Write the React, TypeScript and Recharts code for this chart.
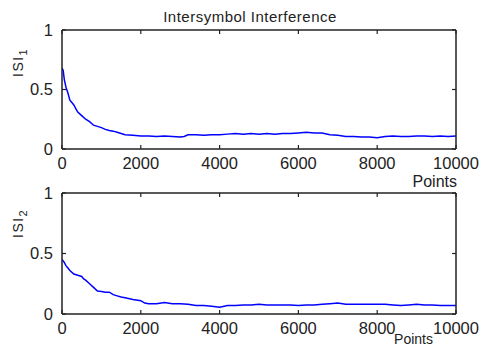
import React from 'react';
import { LineChart, Line, XAxis, YAxis } from 'recharts';

const isi1X = [0, 30, 60, 100, 150, 200, 250, 300, 350, 400, 500, 600, 700, 800, 900, 1000, 1100, 1200, 1300, 1400, 1500, 1600, 1800, 2000, 2200, 2400, 2600, 2800, 3000, 3100, 3200, 3400, 3600, 3800, 4000, 4200, 4400, 4600, 4800, 5000, 5200, 5400, 5600, 5800, 6000, 6200, 6400, 6600, 6800, 7000, 7200, 7400, 7600, 7800, 8000, 8200, 8400, 8600, 8800, 9000, 9200, 9400, 9600, 9800, 10000];
const isi1Y = [0.68, 0.66, 0.58, 0.52, 0.47, 0.41, 0.39, 0.37, 0.34, 0.31, 0.28, 0.25, 0.23, 0.2, 0.19, 0.18, 0.165, 0.155, 0.15, 0.14, 0.13, 0.12, 0.115, 0.11, 0.11, 0.105, 0.11, 0.105, 0.1, 0.105, 0.12, 0.12, 0.115, 0.12, 0.12, 0.125, 0.13, 0.125, 0.13, 0.125, 0.13, 0.125, 0.13, 0.13, 0.135, 0.14, 0.135, 0.135, 0.12, 0.115, 0.105, 0.105, 0.1, 0.1, 0.095, 0.105, 0.11, 0.105, 0.105, 0.11, 0.11, 0.105, 0.11, 0.105, 0.11];

const isi2X = [0, 50, 100, 150, 200, 300, 400, 500, 550, 600, 700, 800, 900, 1000, 1100, 1200, 1300, 1400, 1500, 1600, 1800, 2000, 2100, 2200, 2400, 2600, 2800, 3000, 3200, 3400, 3600, 3800, 4000, 4200, 4400, 4600, 4800, 5000, 5200, 5400, 5600, 5800, 6000, 6200, 6400, 6600, 6800, 7000, 7200, 7400, 7600, 7800, 8000, 8200, 8400, 8600, 8800, 9000, 9200, 9400, 9600, 9800, 10000];
const isi2Y = [0.45, 0.43, 0.4, 0.38, 0.36, 0.33, 0.32, 0.31, 0.29, 0.28, 0.25, 0.22, 0.19, 0.185, 0.18, 0.18, 0.16, 0.15, 0.14, 0.135, 0.12, 0.11, 0.09, 0.085, 0.085, 0.095, 0.085, 0.085, 0.08, 0.07, 0.07, 0.065, 0.055, 0.07, 0.07, 0.075, 0.075, 0.08, 0.075, 0.075, 0.075, 0.075, 0.07, 0.075, 0.075, 0.08, 0.085, 0.09, 0.08, 0.08, 0.08, 0.08, 0.08, 0.08, 0.075, 0.07, 0.075, 0.08, 0.075, 0.075, 0.07, 0.07, 0.07];

const xTicks = [0, 2000, 4000, 6000, 8000, 10000];
const yTicks = [0, 0.5, 1];
const titleText = 'Intersymbol Interference';
const xLabel = 'Points';

const FONT = '"Liberation Sans", Arial, sans-serif';
const AX = '#222';

const XTickBottom = (props: any) => {
  const { x, y, payload } = props;
  return (
    <g>
      <line x1={x} x2={x} y1={y} y2={y - 4} stroke={AX} strokeWidth={1.2} />
      <text x={x} y={y + 20} textAnchor="middle" fontSize={16.5} fontFamily={FONT} fill={AX}>
        {payload.value}
      </text>
    </g>
  );
};
const XTickTop = (props: any) => {
  const { x, y } = props;
  return <line x1={x} x2={x} y1={y} y2={y + 4} stroke={AX} strokeWidth={1.2} />;
};
const YTickLeft = (props: any) => {
  const { x, y, payload } = props;
  return (
    <g>
      <line x1={x} x2={x + 4} y1={y} y2={y} stroke={AX} strokeWidth={1.2} />
      <text x={x - 9} y={y} dy="0.36em" textAnchor="end" fontSize={16.5} fontFamily={FONT} fill={AX}>
        {payload.value}
      </text>
    </g>
  );
};
const YTickRight = (props: any) => {
  const { x, y } = props;
  return <line x1={x} x2={x - 4} y1={y} y2={y} stroke={AX} strokeWidth={1.2} />;
};

function Panel({ xs, ys, top, height }: { xs: number[]; ys: number[]; top: number; height: number }) {
  const data = xs.map((x, i) => ({ x, y: ys[i] }));
  return (
    <div style={{ position: 'absolute', left: 0, top, width: 483, height }}>
      <LineChart width={483} height={height} data={data} margin={{ top: 29, right: 26, bottom: 25, left: 61 }}>
        <XAxis
          dataKey="x"
          type="number"
          domain={[0, 10000]}
          ticks={xTicks}
          height={1}
          tickSize={0}
          tickMargin={0}
          tickLine={false}
          tick={<XTickBottom />}
          axisLine={{ stroke: AX, strokeWidth: 1.5 }}
          allowDataOverflow
          interval={0}
        />
        <XAxis
          xAxisId="t"
          orientation="top"
          dataKey="x"
          type="number"
          domain={[0, 10000]}
          ticks={xTicks}
          height={1}
          tickSize={0}
          tickMargin={0}
          tickLine={false}
          tick={<XTickTop />}
          axisLine={{ stroke: AX, strokeWidth: 1.5 }}
          allowDataOverflow
          interval={0}
        />
        <YAxis
          type="number"
          domain={[0, 1]}
          ticks={yTicks}
          width={1}
          tickSize={0}
          tickMargin={0}
          tickLine={false}
          tick={<YTickLeft />}
          axisLine={{ stroke: AX, strokeWidth: 1.5 }}
          allowDataOverflow
          interval={0}
        />
        <YAxis
          yAxisId="r"
          orientation="right"
          type="number"
          domain={[0, 1]}
          ticks={yTicks}
          width={1}
          tickSize={0}
          tickMargin={0}
          tickLine={false}
          tick={<YTickRight />}
          axisLine={{ stroke: AX, strokeWidth: 1.5 }}
          allowDataOverflow
          interval={0}
        />
        <Line
          type="linear"
          dataKey="y"
          stroke="#0000ff"
          strokeWidth={1.5}
          dot={false}
          isAnimationActive={false}
        />
        <Line
          xAxisId="t"
          yAxisId="r"
          type="linear"
          dataKey="y"
          stroke="none"
          dot={false}
          activeDot={false}
          isAnimationActive={false}
        />
      </LineChart>
    </div>
  );
}

export default function App() {
  return (
    <div style={{ position: 'absolute', left: 0, top: 0, width: 483, height: 347, background: '#fff', overflow: 'hidden' }}>
      <Panel xs={isi1X} ys={isi1Y} top={0} height={175} />
      <Panel xs={isi2X} ys={isi2Y} top={163} height={177} />
      <svg width={483} height={347} style={{ position: 'absolute', left: 0, top: 0, pointerEvents: 'none' }}>
        <text x={250} y={22} textAnchor="middle" fontSize={15} letterSpacing={0.5} fontFamily={FONT} fill={AX}>
          {titleText}
        </text>
        <text x={457} y={187} textAnchor="end" fontSize={16} fontFamily={FONT} fill={AX}>
          {xLabel}
        </text>
        <text x={433} y={344} textAnchor="end" fontSize={14} fontFamily={FONT} fill={AX}>
          {xLabel}
        </text>
        <text transform="translate(23,77) rotate(-90)" fontSize={14} letterSpacing={1.5} fontFamily={FONT} fill={AX}>
          ISI<tspan dy={4} fontSize={11}>1</tspan>
        </text>
        <text transform="translate(23,238) rotate(-90)" fontSize={14} letterSpacing={1.5} fontFamily={FONT} fill={AX}>
          ISI<tspan dy={4} fontSize={11}>2</tspan>
        </text>
      </svg>
    </div>
  );
}
